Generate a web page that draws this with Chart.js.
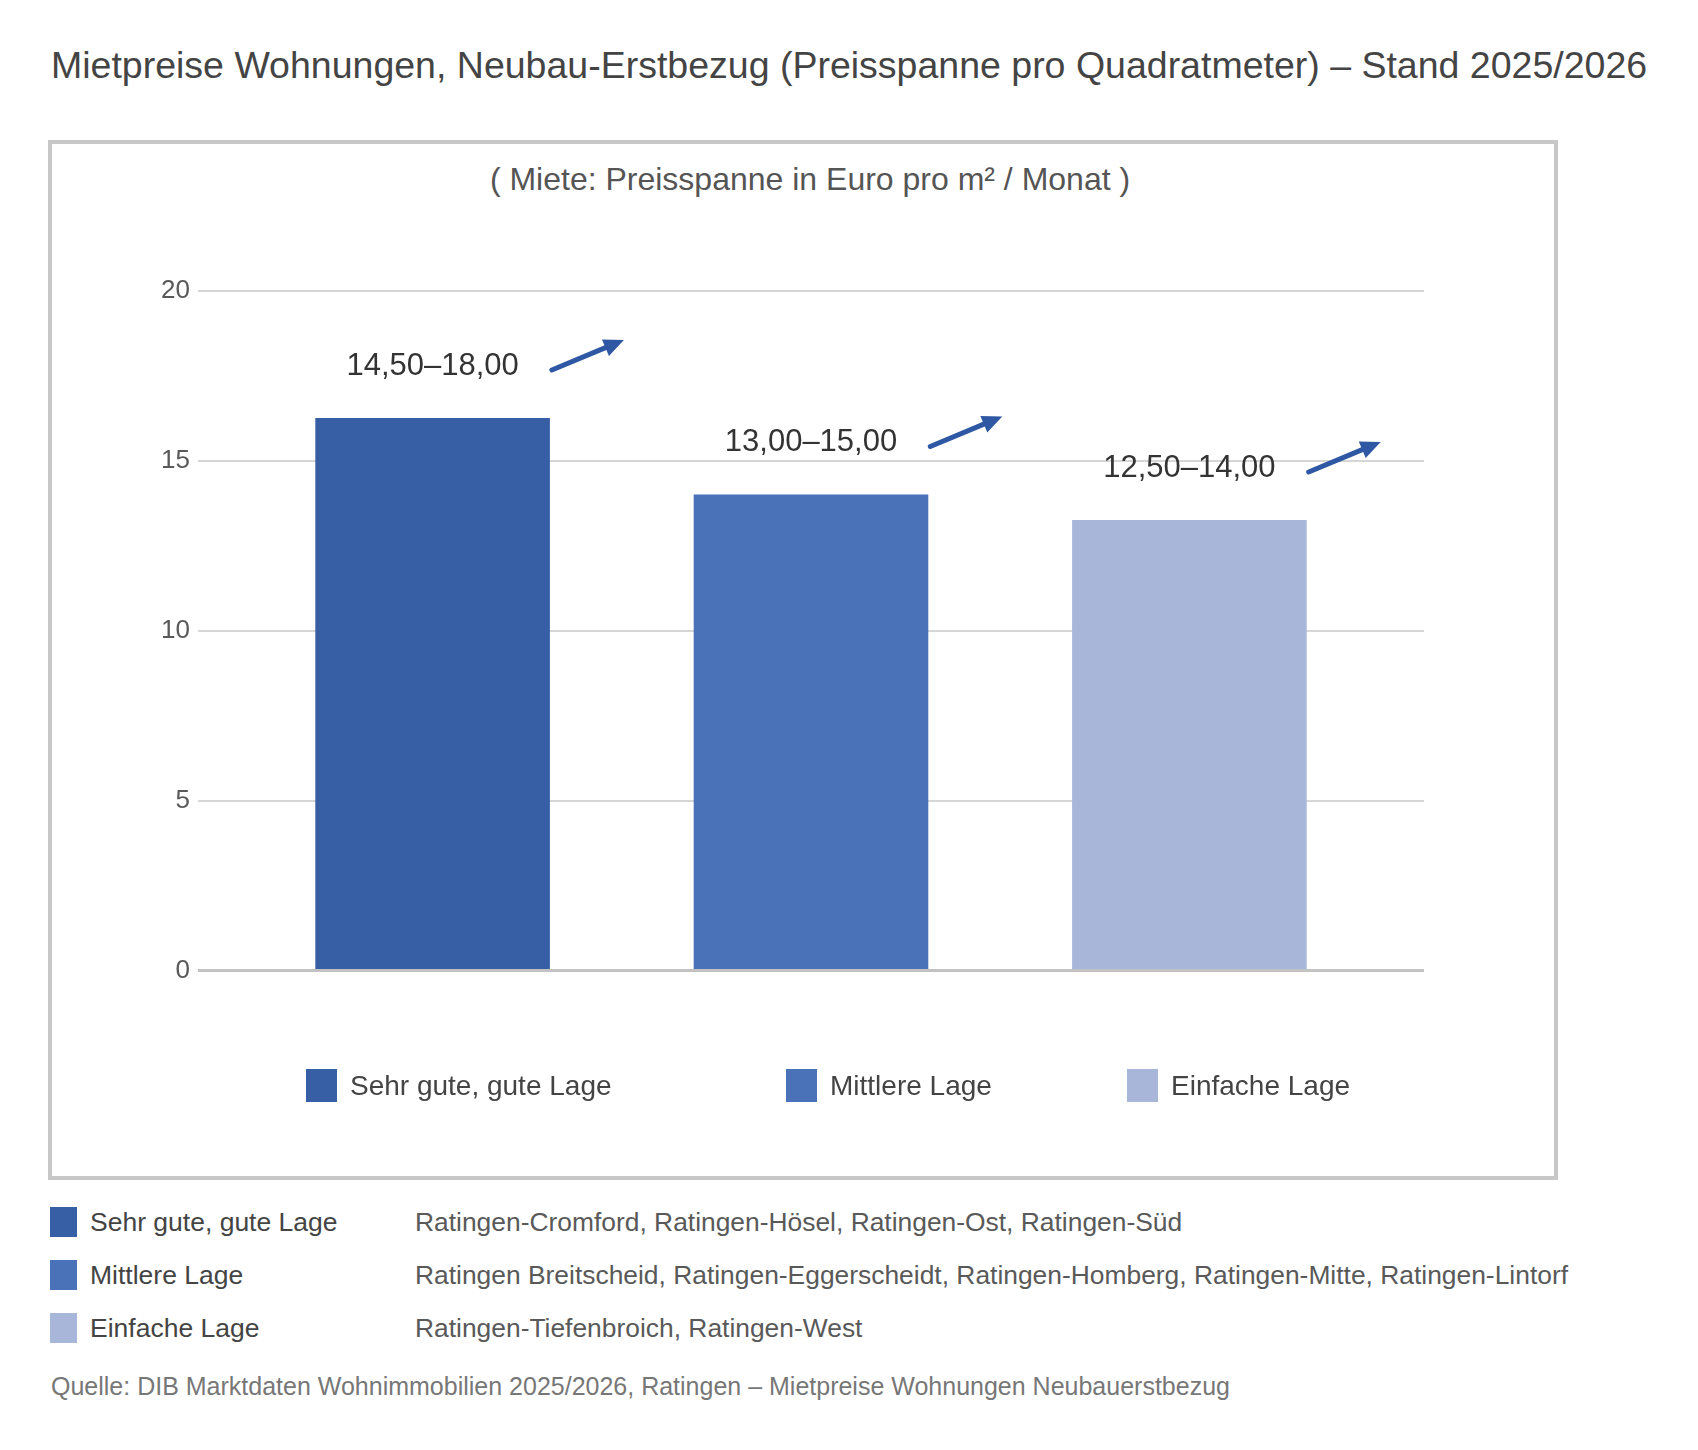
<!DOCTYPE html>
<html lang="de">
<head>
<meta charset="utf-8">
<title>Mietpreise Wohnungen Ratingen</title>
<script src="https://cdn.jsdelivr.net/npm/chart.js@4.4.1/dist/chart.umd.min.js"></script>
<style>
  html, body { margin: 0; padding: 0; background: #fff; }
  body { width: 1698px; height: 1450px; position: relative; overflow: hidden;
         font-family: "Liberation Sans", Arial, sans-serif; }
  .abs { position: absolute; line-height: 1; white-space: nowrap; }
  #title { left: 51px; top: 47px; font-size: 37.5px; color: #444; }
  #frame { position: absolute; left: 48px; top: 140px; width: 1502px; height: 1032px;
           border: 4px solid #c8c8c8; }
  #subtitle { left: 810px; top: 163px; transform: translateX(-50%); font-size: 32px; color: #555; }
  #chart { position: absolute; left: 52px; top: 144px; }
  .lg-item { position: absolute; top: 1069px; height: 33px; display: flex; align-items: center; }
  .lg-box { width: 31px; height: 33px; margin-right: 13px; }
  .lg-text { font-size: 28px; line-height: 1; color: #444; }
  .row { position: absolute; left: 50px; height: 30px; display: flex; align-items: center; }
  .row-box { width: 27px; height: 30px; }
  .row-label { position: absolute; left: 40px; font-size: 26.5px; line-height: 1; color: #444; white-space: nowrap; }
  .row-text { position: absolute; left: 365px; font-size: 26.4px; line-height: 1; color: #595959; white-space: nowrap; }
  #source { left: 51px; top: 1374px; font-size: 25px; color: #777; }
</style>
</head>
<body>
<div id="title" class="abs">Mietpreise Wohnungen, Neubau-Erstbezug (Preisspanne pro Quadratmeter) – Stand 2025/2026</div>
<div id="frame"></div>
<div id="subtitle" class="abs">( Miete: Preisspanne in Euro pro m² / Monat )</div>
<canvas id="chart" width="1502" height="1032"></canvas>
<div id="legend"></div>
<div id="table"></div>
<div id="source" class="abs">Quelle: DIB Marktdaten Wohnimmobilien 2025/2026, Ratingen – Mietpreise Wohnungen Neubauerstbezug</div>

<script>
  // Daten
  const categories = ['Sehr gute, gute Lage', 'Mittlere Lage', 'Einfache Lage'];
  const priceLow = [14.5, 13.0, 12.5];
  const priceHigh = [18.0, 15.0, 14.0];
  const barValues = [16.25, 14.0, 13.25];
  const yTicks = [0, 5, 10, 15, 20];
  const districts = [
    'Ratingen-Cromford, Ratingen-Hösel, Ratingen-Ost, Ratingen-Süd',
    'Ratingen Breitscheid, Ratingen-Eggerscheidt, Ratingen-Homberg, Ratingen-Mitte, Ratingen-Lintorf',
    'Ratingen-Tiefenbroich, Ratingen-West'
  ];

  const barColors = ['#365fa5', '#4a72b9', '#a8b6da'];
  const arrowColor = '#2f58a4';
  const legendLeft = [306, 786, 1127];
  const rowTop = [1207, 1260, 1313];

  const fmt = (v) => v.toFixed(2).replace('.', ',');
  const rangeLabels = priceLow.map((lo, i) => fmt(lo) + '–' + fmt(priceHigh[i]));

  // Legende im Rahmen
  const legend = document.getElementById('legend');
  categories.forEach((c, i) => {
    const item = document.createElement('div');
    item.className = 'lg-item';
    item.style.left = legendLeft[i] + 'px';
    item.innerHTML = '<div class="lg-box" style="background:' + barColors[i] + '"></div>' +
      '<span class="lg-text">' + c + '</span>';
    legend.appendChild(item);
  });

  // Tabelle unten
  const table = document.getElementById('table');
  categories.forEach((c, i) => {
    const row = document.createElement('div');
    row.className = 'row';
    row.style.top = rowTop[i] + 'px';
    row.innerHTML = '<div class="row-box" style="background:' + barColors[i] + '"></div>' +
      '<span class="row-label">' + c + '</span>' +
      '<span class="row-text">' + districts[i] + '</span>';
    table.appendChild(row);
  });

  // Beschriftung + Pfeil ueber den Balken
  const rangePlugin = {
    id: 'rangeLabels',
    afterDatasetsDraw(chart) {
      const ctx = chart.ctx;
      const meta = chart.getDatasetMeta(0);
      ctx.save();
      meta.data.forEach((bar, i) => {
        const cy = bar.y - 52;
        ctx.font = '31px "Liberation Sans", Arial, sans-serif';
        ctx.fillStyle = '#333';
        ctx.textAlign = 'center';
        ctx.textBaseline = 'middle';
        ctx.fillText(rangeLabels[i], bar.x, cy);

        const x0 = bar.x + bar.width / 2 + 2;
        const y0 = cy + 4;
        const x1 = x0 + 72;
        const y1 = cy - 26;
        const ang = Math.atan2(y1 - y0, x1 - x0);
        const head = 20;
        const hx = x1 - head * Math.cos(ang);
        const hy = y1 - head * Math.sin(ang);
        ctx.strokeStyle = arrowColor;
        ctx.fillStyle = arrowColor;
        ctx.lineWidth = 5;
        ctx.lineCap = 'round';
        ctx.beginPath();
        ctx.moveTo(x0, y0);
        ctx.lineTo(hx + 2 * Math.cos(ang), hy + 2 * Math.sin(ang));
        ctx.stroke();
        ctx.beginPath();
        ctx.moveTo(x1, y1);
        ctx.lineTo(hx + 9 * Math.sin(ang), hy - 9 * Math.cos(ang));
        ctx.lineTo(hx - 9 * Math.sin(ang), hy + 9 * Math.cos(ang));
        ctx.closePath();
        ctx.fill();
      });
      ctx.restore();
    }
  };

  const ctx = document.getElementById('chart');
  new Chart(ctx, {
    type: 'bar',
    data: {
      datasets: [{
        data: barValues.map((v, i) => ({ x: i, y: v })),
        backgroundColor: barColors,
        borderWidth: 0,
        barPercentage: 0.62,
        categoryPercentage: 1
      }]
    },
    options: {
      responsive: false,
      animation: false,
      devicePixelRatio: 1,
      layout: {
        padding: { left: 86, right: 130, top: 146.5, bottom: 205.5 }
      },
      scales: {
        x: {
          type: 'linear',
          display: false,
          offset: false,
          min: -0.62,
          max: 2.62,
          afterBuildTicks: (axis) => {
            axis.ticks = categories.map((c, i) => ({ value: i }));
          }
        },
        y: {
          min: 0,
          max: 20,
          afterBuildTicks: (axis) => {
            axis.ticks = yTicks.map(v => ({ value: v }));
          },
          afterFit: (axis) => { axis.width = 60; },
          border: { display: false },
          grid: {
            drawTicks: false,
            color: (c) => c.tick && c.tick.value === 0 ? '#c2c2c2' : '#d6d6d6',
            lineWidth: (c) => c.tick && c.tick.value === 0 ? 3 : 2
          },
          ticks: {
            padding: 8,
            color: '#595959',
            font: { family: '"Liberation Sans", Arial, sans-serif', size: 26 }
          }
        }
      },
      plugins: {
        legend: { display: false },
        tooltip: { enabled: false }
      }
    },
    plugins: [rangePlugin]
  });
</script>
</body>
</html>
